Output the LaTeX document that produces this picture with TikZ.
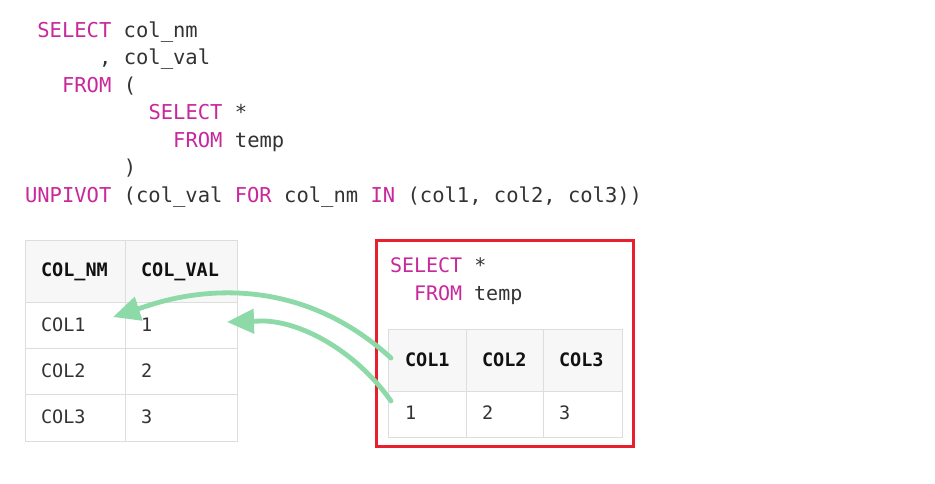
\documentclass[tikz,border=0pt]{standalone}
\usepackage{fontspec}
\setmonofont{DejaVu Sans Mono}
\usetikzlibrary{arrows.meta}
\definecolor{kwc}{HTML}{C8289B}
\definecolor{codetext}{HTML}{333333}
\definecolor{hdrtext}{HTML}{111111}
\definecolor{hdrfill}{HTML}{F7F7F7}
\definecolor{gridc}{HTML}{DDDDDD}
\definecolor{boxred}{HTML}{E8202E}
\definecolor{arrgreen}{HTML}{8ED9A8}
\newcommand\kw[1]{\textcolor{kwc}{#1}}
\begin{document}
\begin{tikzpicture}[x=1pt,y=-1pt,
  every node/.style={inner sep=0pt,outer sep=0pt},
  code/.style={anchor=base west,font=\fontsize{20.5}{24}\selectfont\ttfamily,text=codetext},
  codeb/.style={anchor=base west,font=\fontsize{20}{24}\selectfont\ttfamily,text=codetext},
  thead/.style={anchor=base west,font=\fontsize{18.5}{22}\selectfont\ttfamily\bfseries,text=hdrtext},
  tcell/.style={anchor=base west,font=\fontsize{18.5}{22}\selectfont\ttfamily,text=codetext},
  gridline/.style={draw=gridc,line width=1pt},
  arr/.style={draw=arrgreen,line width=4.8pt,line cap=round,line join=round,-{Triangle[length=27pt,width=24pt]}}
]
\fill[white] (0,0) rectangle (935,483);
\useasboundingbox (0,0) rectangle (935,483);

% SQL code
\node[code] (c1) at (37.35,37) {\kw{SELECT} col\_nm};
\node[code] (c2) at (99.1,64.5) {, col\_val};
\node[code] (c3) at (62.05,92) {\kw{FROM} (};
\node[code] (c4) at (148.5,119.5) {\kw{SELECT} *};
\node[code] (c5) at (173.2,147) {\kw{FROM} temp};
\node[code] (c6) at (123.8,174.5) {)};
\node[code] (c7) at (25,202) {\kw{UNPIVOT} (col\_val \kw{FOR} col\_nm \kw{IN} (col1, col2, col3))};

% left table
\fill[hdrfill] (25,240) rectangle (237,302);
\draw[gridline] (25,240) rectangle (237,441);
\draw[gridline] (25,302) -- (237,302);
\draw[gridline] (25,348) -- (237,348);
\draw[gridline] (25,394) -- (237,394);
\draw[gridline] (125,240) -- (125,441);
\node[thead] (lh1) at (41,276) {COL\_NM};
\node[thead] (lh2) at (141,276) {COL\_VAL};
\node[tcell] (lr1a) at (41,331.5) {COL1};
\node[tcell] (lr1b) at (141,331.5) {1};
\node[tcell] (lr2a) at (41,377.5) {COL2};
\node[tcell] (lr2b) at (141,377.5) {2};
\node[tcell] (lr3a) at (41,423.5) {COL3};
\node[tcell] (lr3b) at (141,423.5) {3};

% red box
\draw[boxred,line width=3pt] (376.5,240.5) rectangle (633.5,446.5);
\node[codeb] (r1) at (390,272) {\kw{SELECT} *};
\node[codeb] (r2) at (414,300) {\kw{FROM} temp};

% right table
\fill[hdrfill] (388,329) rectangle (622,391);
\draw[gridline] (388,329) rectangle (622,437);
\draw[gridline] (388,391) -- (622,391);
\draw[gridline] (466,329) -- (466,437);
\draw[gridline] (543,329) -- (543,437);
\node[thead] (rh1) at (405,366.5) {COL1};
\node[thead] (rh2) at (482,366.5) {COL2};
\node[thead] (rh3) at (559,366.5) {COL3};
\node[tcell] (rv1) at (405,419.5) {1};
\node[tcell] (rv2) at (482,419.5) {2};
\node[tcell] (rv3) at (559,419.5) {3};

% arrows
\coordinate (a1s) at (391,358);
\coordinate (a1m) at (150,305);
\coordinate (a1e) at (113,317);
\coordinate (a2s) at (391,401);
\coordinate (a2m) at (262,321);
\coordinate (a2e) at (227,322);
\draw[arr] (a1s) .. controls (300,275) and (200,289) .. (a1m) -- (a1e);
\draw[arr] (a2s) .. controls (355,350) and (300,321) .. (a2m) -- (a2e);
\end{tikzpicture}
\end{document}
